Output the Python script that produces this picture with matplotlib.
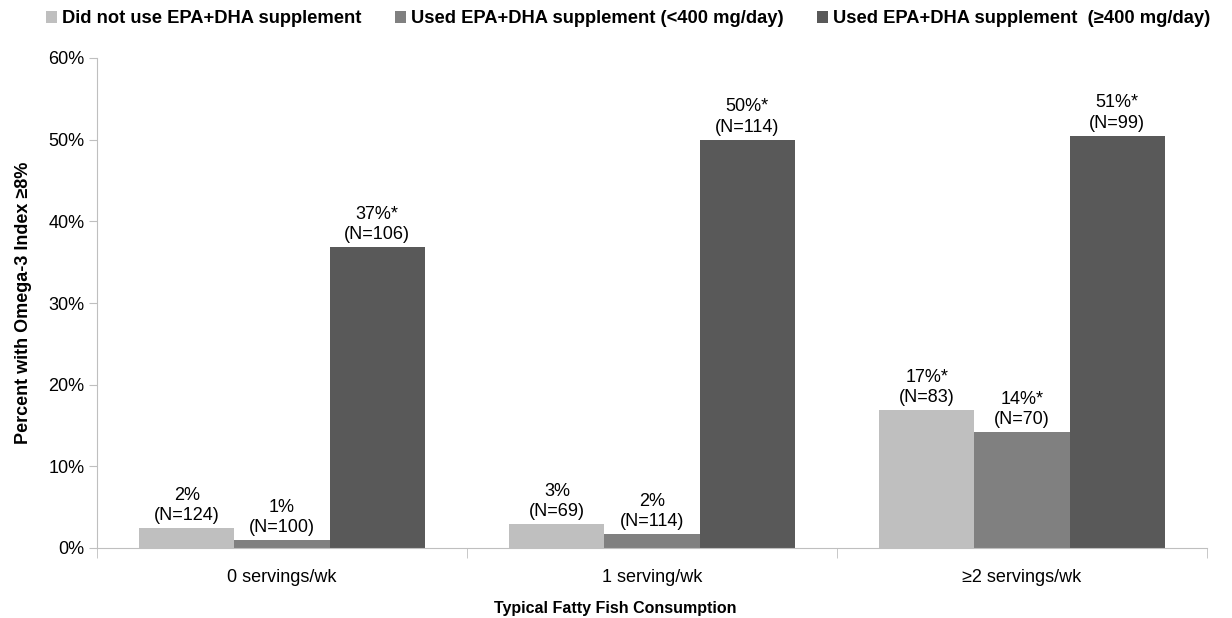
import numpy as np
import matplotlib
matplotlib.use("Agg")
import matplotlib.pyplot as plt

plt.rcParams["font.family"] = ["Liberation Sans", "DejaVu Sans"]

categories = ["0 servings/wk", "1 serving/wk", "\u22652 servings/wk"]
series = ["Did not use EPA+DHA supplement",
          "Used EPA+DHA supplement (<400 mg/day)",
          "Used EPA+DHA supplement  (\u2265400 mg/day)"]
values = [[2.4, 2.9, 16.9],
          [1.0, 1.7, 14.2],
          [36.8, 50.0, 50.5]]
pct_labels = [["2%", "3%", "17%*"],
              ["1%", "2%", "14%*"],
              ["37%*", "50%*", "51%*"]]
n_labels = [[124, 69, 83],
            [100, 114, 70],
            [106, 114, 99]]
colors = ["#BFBFBF", "#808080", "#595959"]

fig = plt.figure(figsize=(12.32, 6.18), dpi=100)
ax = fig.add_axes([97/1232, 70/618, 1110/1232, 490/618])

x = np.arange(len(categories))
w = 0.257
for i in range(3):
    pos = x + (i - 1) * w
    ax.bar(pos, values[i], width=w, color=colors[i], label=series[i])
    for j in range(3):
        ax.text(pos[j], values[i][j] + 0.5, f"{pct_labels[i][j]}\n(N={n_labels[i][j]})",
                ha="center", va="bottom", fontsize=13, linespacing=1.25)

ax.set_xlim(-0.5, 2.5)
ax.set_ylim(0, 60)
ax.set_yticks(np.arange(0, 61, 10))
ax.set_yticklabels([f"{v}%" for v in range(0, 61, 10)], fontsize=13)
ax.set_xticks(x)
ax.set_xticklabels(categories, fontsize=13)
ax.set_xticks([-0.5, 0.5, 1.5, 2.5], minor=True)
ax.tick_params(axis="x", which="major", length=0, pad=15)
ax.tick_params(axis="x", which="minor", length=7, color="#BFBFBF", direction="out")
ax.tick_params(axis="y", length=6, color="#BFBFBF", direction="out", pad=3)
for s in ["top", "right"]:
    ax.spines[s].set_visible(False)
ax.spines["left"].set_color("#BFBFBF")
ax.spines["bottom"].set_color("#BFBFBF")

ax.set_ylabel("Percent with Omega-3 Index \u22658%", fontsize=13, fontweight="bold", labelpad=12)
fig.text(615/1232, 1 - 608/618, "Typical Fatty Fish Consumption",
         ha="center", va="center", fontsize=11.5, fontweight="bold")

fig.legend(loc="upper center", bbox_to_anchor=(0.51, 1.01), ncol=3, frameon=False,
           prop={"size": 13.2, "weight": "bold"}, handlelength=0.6, handleheight=0.6,
           handletextpad=0.3, columnspacing=1.8)

fig.savefig("out.png", dpi=100)
